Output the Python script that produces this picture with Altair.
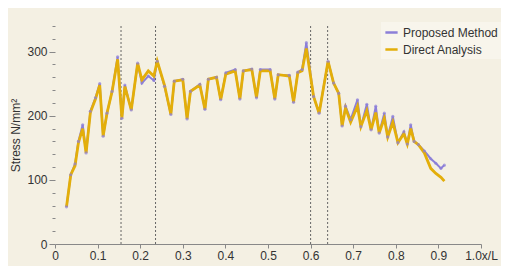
import altair as alt
import pandas as pd

x_pos = [0.027, 0.037, 0.047, 0.055, 0.065, 0.073, 0.083, 0.095, 0.105, 0.113,
         0.122, 0.134, 0.147, 0.157, 0.164, 0.179, 0.194, 0.204, 0.219, 0.232,
         0.240, 0.257, 0.272, 0.280, 0.300, 0.310, 0.318, 0.340, 0.352, 0.360,
         0.379, 0.389, 0.401, 0.423, 0.434, 0.442, 0.462, 0.473, 0.482, 0.505,
         0.516, 0.524, 0.550, 0.560, 0.570, 0.580, 0.590, 0.607, 0.620, 0.641,
         0.654, 0.666, 0.674, 0.682, 0.694, 0.710, 0.718, 0.732, 0.742, 0.753,
         0.761, 0.773, 0.781, 0.793, 0.805, 0.819, 0.827, 0.835, 0.843, 0.853,
         0.867, 0.882, 0.894, 0.906, 0.914]
proposed = [58, 108, 125, 160, 186, 142, 207, 228, 250, 168,
            204, 238, 292, 196, 248, 209, 282, 251, 262, 255,
            285, 246, 202, 254, 257, 195, 238, 249, 210, 257,
            260, 225, 267, 272, 226, 270, 273, 228, 272, 272,
            226, 264, 263, 221, 268, 272, 314, 230, 204, 285,
            251, 235, 184, 215, 194, 225, 183, 218, 178, 215,
            173, 204, 167, 199, 158, 175, 156, 186, 160, 155,
            145, 133, 126, 118, 123]
direct = [58, 108, 122, 158, 180, 142, 205, 226, 248, 168,
          204, 238, 288, 196, 246, 209, 282, 256, 270, 262,
          285, 248, 202, 254, 256, 195, 238, 248, 210, 257,
          260, 225, 265, 270, 226, 270, 272, 228, 270, 270,
          226, 264, 262, 221, 267, 270, 305, 230, 204, 285,
          251, 235, 184, 212, 190, 215, 183, 208, 178, 205,
          173, 196, 167, 190, 158, 172, 156, 180, 160, 155,
          142, 118, 110, 104, 98]
dashed_x = [0.155, 0.236, 0.600, 0.640]
series_names = ["Proposed Method", "Direct Analysis"]
x_ticks = [0, 0.1, 0.2, 0.3, 0.4, 0.5, 0.6, 0.7, 0.8, 0.9, 1.0]
y_ticks = list(range(0, 341, 20))

PURPLE = "#8c7fd8"
GOLD = "#e3ae0a"
FONT = "Liberation Sans Narrow, Liberation Sans, Arial, sans-serif"

df = pd.DataFrame({
    "x": x_pos * 2,
    "y": proposed + direct,
    "series": [series_names[0]] * len(x_pos) + [series_names[1]] * len(x_pos),
})
df_prop = df[df.series == series_names[0]]
df_dir = df[df.series == series_names[1]]
df_dash = pd.DataFrame({"x": dashed_x})

xenc = alt.X("x:Q", scale=alt.Scale(domain=[0, 1], nice=False),
             axis=alt.Axis(values=x_ticks, title=None, format=".1f",
                           labelExpr="datum.value == 0 ? '0' : (datum.value == 1 ? '1.0x/L' : datum.label)",
                           tickSize=4, labelPadding=2, grid=False, labelOverlap=False,
                           labelFlush=False))
yenc = alt.Y("y:Q", scale=alt.Scale(domain=[0, 340], nice=False),
             axis=alt.Axis(values=y_ticks, title="Stress N/mm²",
                           labelExpr="datum.value % 100 == 0 ? datum.label : ''",
                           tickSize={"condition": {"test": "datum.value % 100 == 0", "value": 6}, "value": 3},
                           labelPadding=2, grid=False, domain=False, titlePadding=4,
                           labelOverlap=False))
color = alt.Color("series:N", scale=alt.Scale(domain=series_names, range=[PURPLE, GOLD]),
                  legend=alt.Legend(title=None, orient="none", legendX=326, legendY=-4,
                                    symbolType="stroke", symbolStrokeWidth=2.5, symbolSize=150,
                                    labelFontSize=12, labelFont=FONT, labelColor="#333",
                                    rowPadding=3, fillColor="#f8f5ec", padding=3,
                                    labelLimit=200))

dash = alt.Chart(df_dash).mark_rule(color="#666", strokeDash=[2, 2], strokeWidth=1).encode(
    x=alt.X("x:Q", scale=alt.Scale(domain=[0, 1], nice=False)))
prop_line = alt.Chart(df_prop).mark_line(strokeWidth=2).encode(x=xenc, y=yenc, color=color)
dir_line = alt.Chart(df_dir).mark_line(strokeWidth=2.8).encode(x=xenc, y=yenc, color=color)
prop_pts = alt.Chart(df_prop).mark_point(filled=True, size=10, opacity=0.7, color=PURPLE, shape="circle").encode(
    x=xenc, y=yenc)

chart = alt.layer(dash, prop_line, dir_line, prop_pts).properties(
    width=426, height=218,
    autosize=alt.AutoSizeParams(type="none"),
    padding={"left": 47, "top": 18, "right": 20, "bottom": 22},
    background="#f4f0e3",
).configure_view(stroke=None).configure_axis(
    labelFont=FONT, titleFont=FONT, labelFontSize=12, titleFontSize=12,
    labelColor="#333", titleColor="#333", tickColor="#888", domainColor="#888",
    titleFontWeight="normal",
)

chart.save("out.html", embed_options={"renderer": "svg", "actions": False})
